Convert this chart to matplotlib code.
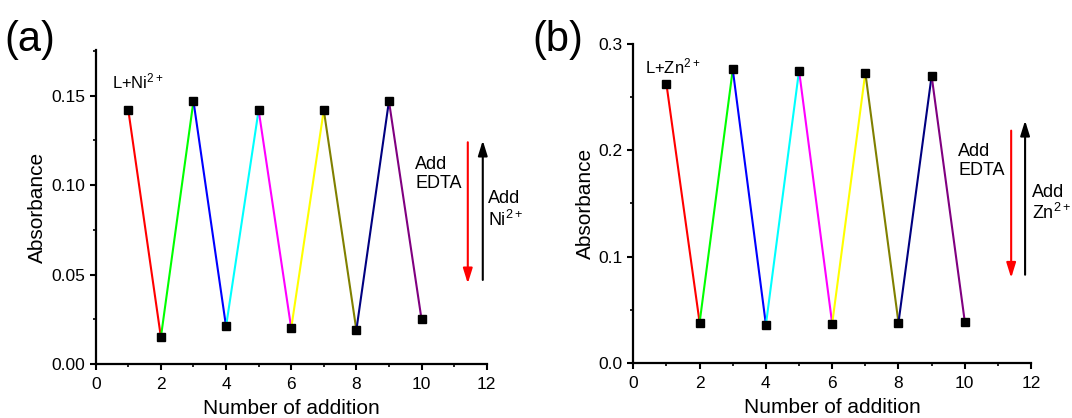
import numpy as np
import matplotlib
matplotlib.use('Agg')
import matplotlib.pyplot as plt
from matplotlib.ticker import MultipleLocator, FormatStrFormatter

plt.rcParams['font.family'] = ['Liberation Sans', 'DejaVu Sans']
plt.rcParams['mathtext.default'] = 'regular'

# data
additions = [1, 2, 3, 4, 5, 6, 7, 8, 9, 10]
abs_ni = [0.142, 0.015, 0.147, 0.021, 0.142, 0.020, 0.142, 0.019, 0.147, 0.025]
abs_zn = [0.262, 0.038, 0.276, 0.036, 0.275, 0.037, 0.273, 0.038, 0.270, 0.039]
seg_colors = ['#FF0000', '#00FF00', '#0000FF', '#00FFFF', '#FF00FF',
              '#FFFF00', '#808000', '#000080', '#800080']

fig = plt.figure(figsize=(10.72, 4.18), dpi=100)
axa = fig.add_axes([0.0893, 0.1292, 0.3647, 0.7512])
axb = fig.add_axes([0.5908, 0.1316, 0.3710, 0.7632])


def draw_panel(ax, y, ylim, major, minor, fmt, ion, label_xy, edta_arrow, ion_arrow,
               arrow_x, edta_y, ion_y):
    for i in range(len(additions) - 1):
        ax.plot(additions[i:i + 2], y[i:i + 2], color=seg_colors[i], lw=1.5, zorder=2)
    ax.plot(additions, y, ls='none', marker='s', ms=5.5, color='black', zorder=3)
    ax.set_xlim(0, 12)
    ax.set_ylim(*ylim)
    ax.xaxis.set_major_locator(MultipleLocator(2))
    ax.xaxis.set_minor_locator(MultipleLocator(1))
    ax.yaxis.set_major_locator(MultipleLocator(major))
    ax.yaxis.set_minor_locator(MultipleLocator(minor))
    ax.yaxis.set_major_formatter(FormatStrFormatter(fmt))
    for s in ['top', 'right']:
        ax.spines[s].set_visible(False)
    for s in ['left', 'bottom']:
        ax.spines[s].set_linewidth(1.6)
    ax.tick_params(which='major', direction='out', length=4.5, width=1.5, labelsize=12.5,
                   pad=3)
    ax.tick_params(axis='x', which='major', pad=5)
    ax.tick_params(which='minor', direction='out', length=2.5, width=1.2)
    ax.set_xlabel('Number of addition', fontsize=15, labelpad=5)
    ax.set_ylabel('Absorbance', fontsize=15, labelpad=3)
    ax.text(label_xy[0], label_xy[1], 'L+' + ion + '$^{2+}$', fontsize=12,
            va='center', ha='left')
    ax.annotate('', xy=(arrow_x[0], edta_arrow[1]), xytext=(arrow_x[0], edta_arrow[0]),
                arrowprops=dict(arrowstyle='-|>,head_width=0.28,head_length=0.9',
                                color='red', lw=1.5, shrinkA=0, shrinkB=0),
                annotation_clip=False)
    ax.annotate('', xy=(arrow_x[1], ion_arrow[1]), xytext=(arrow_x[1], ion_arrow[0]),
                arrowprops=dict(arrowstyle='-|>,head_width=0.28,head_length=0.9',
                                color='black', lw=1.5, shrinkA=0, shrinkB=0),
                annotation_clip=False)
    ax.text(9.8, edta_y, 'Add\nEDTA', fontsize=13, va='center', ha='left',
            linespacing=1.15)
    ax.text(12.03, ion_y, 'Add\n' + ion + '$^{2+}$', fontsize=13, va='center',
            ha='left', linespacing=1.15, clip_on=False)


draw_panel(axa, abs_ni, (0, 0.1756), 0.05, 0.025, '%.2f', 'Ni', (0.5, 0.158),
           (0.124, 0.045), (0.047, 0.125), (11.42, 11.88), 0.106, 0.086)
draw_panel(axb, abs_zn, (0, 0.3), 0.1, 0.05, '%.1f', 'Zn', (0.35, 0.279),
           (0.2185, 0.080), (0.083, 0.228), (11.40, 11.82), 0.190, 0.150)

fig.text(0.004, 0.878, '(a)', fontsize=30)
fig.text(0.497, 0.878, '(b)', fontsize=30)

fig.savefig('out.png', dpi=100)
